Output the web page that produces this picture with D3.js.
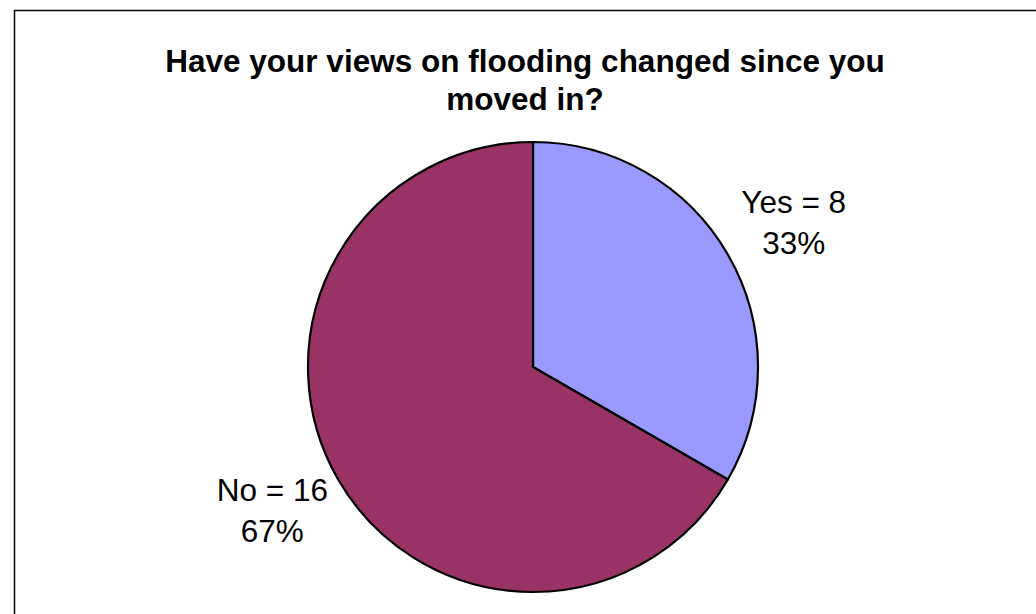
<!DOCTYPE html>
<html>
<head>
<meta charset="utf-8">
<script src="https://cdn.jsdelivr.net/npm/d3@7"></script>
<style>
  html, body { margin: 0; padding: 0; background: #fff; }
  svg { display: block; }
  text { font-family: Arial, "Liberation Sans", sans-serif; fill: #000; }
</style>
</head>
<body>
<svg id="chart" width="1036" height="614"></svg>
<script>
// Survey answers
const categories = ["Yes", "No"];
const counts = [8, 16];
const colors = ["#9999FF", "#993366"];
const titleLines = ["Have your views on flooding changed since you", "moved in?"];

const svg = d3.select("#chart");
const W = 1036, H = 614;

// Chart area frame (only top and left edges fall inside the view)
svg.append("rect")
  .attr("x", 14.5).attr("y", 10.5)
  .attr("width", W + 20).attr("height", H + 20)
  .attr("fill", "#fff")
  .attr("stroke", "#000")
  .attr("stroke-width", 1.5);

// Title
const title = svg.append("text")
  .attr("text-anchor", "middle")
  .attr("font-weight", "bold")
  .attr("font-size", 31.5);
titleLines.forEach((t, i) => {
  title.append("tspan").attr("x", 525).attr("y", 72 + i * 38).text(t);
});

// Pie
const cx = 533, cy = 367, R = 225;
const total = d3.sum(counts);
const data = categories.map((c, i) => ({ name: c, value: counts[i], color: colors[i] }));

const pie = d3.pie().sort(null).value(d => d.value).startAngle(0).endAngle(2 * Math.PI);
const arc = d3.arc().innerRadius(0).outerRadius(R);

const g = svg.append("g").attr("transform", `translate(${cx},${cy})`);
const arcs = pie(data);

g.selectAll("path.slice")
  .data(arcs)
  .join("path")
  .attr("class", "slice")
  .attr("d", arc)
  .attr("fill", d => d.data.color)
  .attr("stroke", "#000")
  .attr("stroke-width", 2.2)
  .attr("stroke-linejoin", "round");

// Labels sit outside the pie along each slice's mid-angle
const labelRx = 301, labelRy = 288;
const fmtPct = v => Math.round(v / total * 100) + "%";
const labels = g.selectAll("text.lbl")
  .data(arcs)
  .join("text")
  .attr("class", "lbl")
  .attr("text-anchor", "middle")
  .attr("font-size", 31.5);

labels.each(function(d) {
  const mid = (d.startAngle + d.endAngle) / 2;
  const lx = labelRx * Math.sin(mid);
  const ly = -labelRy * Math.cos(mid);
  const t = d3.select(this);
  t.append("tspan").attr("x", lx).attr("y", ly - 10).text(`${d.data.name} = ${d.data.value}`);
  t.append("tspan").attr("x", lx).attr("y", ly + 31).text(fmtPct(d.data.value));
});
</script>
</body>
</html>
